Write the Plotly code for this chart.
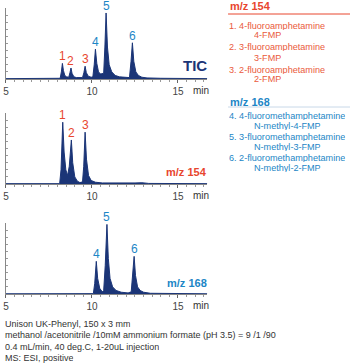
import plotly.graph_objects as go

W, H = 350, 363

# ---- data ----
tic_t = [5, 8.1, 8.15, 8.22, 8.28, 8.34, 8.42, 8.52, 8.65, 8.72, 8.78, 8.84, 8.95, 9.1,
         9.45, 9.53, 9.6, 9.67, 9.78, 9.95, 10.05, 10.13, 10.2, 10.28, 10.38, 10.5,
         10.68, 10.75, 10.82, 10.9, 11.0, 11.15, 11.35, 11.6, 11.9, 12.18, 12.27, 12.35,
         12.43, 12.55, 12.7, 12.9, 13.2, 14, 16.7]
tic_i = [0.5, 0.5, 1, 10, 22, 12, 5, 3, 2.5, 9, 15.5, 8, 3, 2,
         2, 9, 18, 9, 4, 2.5, 3, 20, 42, 22, 10, 7,
         8, 45, 93, 45, 20, 10, 5, 3, 2, 2, 25, 51,
         25, 10, 5, 2.5, 1.5, 1, 0.5]

mz154_t = [5, 8.12, 8.2, 8.3, 8.38, 8.48, 8.58, 8.68, 8.8, 8.88, 9.0, 9.15, 9.3, 9.45,
           9.52, 9.6, 9.68, 9.8, 9.95, 10.2, 10.6, 11.5, 11.8, 12.5, 12.9, 13.3, 16.7]
mz154_i = [0.5, 0.5, 20, 87, 45, 20, 12, 25, 62, 30, 10, 4, 2, 3,
           25, 73, 35, 12, 5, 2.5, 1.5, 1, 1.5, 1.5, 1.8, 0.8, 0.5]

mz168_t = [5, 10.08, 10.16, 10.25, 10.33, 10.45, 10.6, 10.68, 10.77, 10.87, 10.95, 11.05,
           11.2, 11.4, 11.7, 12.1, 12.28, 12.37, 12.45, 12.53, 12.65, 12.8, 13.0, 13.4, 16.7]
mz168_i = [0.3, 0.5, 15, 46, 22, 8, 3, 5, 40, 98, 50, 22,
           10, 5, 2.5, 1.5, 3, 25, 53, 26, 10, 5, 2.5, 1, 0.3]

peak_labels = ["1", "2", "3", "4", "5", "6"]
tic_peak_t = [8.28, 8.78, 9.6, 10.2, 10.82, 12.35]
tic_peak_i = [22, 15.5, 18, 42, 93, 51]
p154_t = [8.3, 8.8, 9.6]
p154_i = [87, 62, 73]
p168_t = [10.25, 10.87, 12.45]
p168_i = [46, 98, 53]

x_ticks = [5, 10, 15]
panel_names = ["TIC", "m/z 154", "m/z 168"]

legend154 = ["1. 4-fluoroamphetamine", "4-FMP", "2. 3-fluoroamphetamine", "3-FMP",
             "3. 2-fluoroamphetamine", "2-FMP"]
legend168 = ["4. 4-fluoromethamphetamine", "N-methyl-4-FMP", "5. 3-fluoromethamphetamine",
             "N-methyl-3-FMP", "6. 2-fluoromethamphetamine", "N-methyl-2-FMP"]
conditions = ["Unison UK-Phenyl, 150 x 3 mm",
              "methanol /acetonitrile /10mM ammonium formate (pH 3.5) = 9 /1 /90",
              "0.4 mL/min, 40 deg.C, 1-20uL injection",
              "MS: ESI, positive"]

# ---- styles ----
NAVY = "#1b3577"
RED = "#e8462e"
RED_L = "#ea5a3c"
BLUE = "#1c86c6"
FONT = "Liberation Sans, Arial, sans-serif"

def px(x, y):
    return x / W, 1 - y / H

fig = go.Figure()

panels = [(8, 79), (113, 184), (223, 294)]
xl, xr = 3, 206
traces = [(tic_t, tic_i), (mz154_t, mz154_i), (mz168_t, mz168_i)]

for k, ((top, bot), (t, i)) in enumerate(zip(panels, traces)):
    sfx = "" if k == 0 else str(k + 1)
    fig.add_trace(go.Scatter(x=t, y=i, mode="lines", fill="tozeroy",
                             line=dict(color=NAVY, width=1), fillcolor=NAVY,
                             xaxis="x" + sfx, yaxis="y" + sfx, hoverinfo="skip"))
    fig.layout["xaxis" + sfx] = dict(
        domain=[xl / W, xr / W], range=[5, 16.7], anchor="y" + sfx,
        tickvals=x_ticks, ticks="outside", ticklen=3, tickcolor="#666",
        minor=dict(dtick=0.5, ticks="outside", ticklen=2, tickcolor="#999"),
        showline=True, linecolor="#888", linewidth=1, showgrid=False, zeroline=False,
        tickfont=dict(family=FONT, size=10, color="#444"), fixedrange=True)
    fig.layout["yaxis" + sfx] = dict(
        domain=[1 - bot / H, 1 - top / H], range=[0, 100], anchor="x" + sfx,
        showticklabels=False, ticks="inside", ticklen=2, dtick=10, tickcolor="#999",
        showline=True, linecolor="#888", linewidth=1, showgrid=False, zeroline=False,
        fixedrange=True)

annotations = []

def peak_ann(labels, ts, hs, sfx):
    for lab, t, h in zip(labels, ts, hs):
        col = RED if int(lab) <= 3 else BLUE
        annotations.append(dict(x=t, y=h, xref="x" + sfx, yref="y" + sfx, text=lab,
                                showarrow=False, yanchor="bottom", yshift=0, height=12,
                                borderpad=0,
                                font=dict(family=FONT, size=12, color=col)))

peak_ann(peak_labels, tic_peak_t, tic_peak_i, "")
peak_ann(peak_labels[:3], p154_t, p154_i, "2")
peak_ann(peak_labels[3:], p168_t, p168_i, "3")

name_specs = [(panel_names[0], 65, NAVY, 15), (panel_names[1], 172, RED, 11),
              (panel_names[2], 283, BLUE, 11)]
for txt, yy, col, sz in name_specs:
    x0, y0 = px(208, yy)
    annotations.append(dict(x=x0, y=y0, xref="paper", yref="paper", text="<b>%s</b>" % txt,
                            showarrow=False, xanchor="right", yanchor="middle",
                            font=dict(family=FONT, size=sz, color=col)))

for (top, bot) in panels:
    x0, y0 = px(200, bot + 11)
    annotations.append(dict(x=x0, y=y0, xref="paper", yref="paper", text="min",
                            showarrow=False, xanchor="center", yanchor="middle",
                            font=dict(family=FONT, size=10, color="#333")))

def legend_block(title, items, col, icol, y_title, y_items):
    x0, y0 = px(228, y_title)
    annotations.append(dict(x=x0, y=y0, xref="paper", yref="paper", text="<b>%s</b>" % title,
                            showarrow=False, xanchor="left", yanchor="middle",
                            height=11, borderpad=0,
                            font=dict(family=FONT, size=11, color=col)))
    for n, (txt, yy) in enumerate(zip(items, y_items)):
        xx = 227 if n % 2 == 0 else 252
        a, b = px(xx, yy)
        annotations.append(dict(x=a, y=b, xref="paper", yref="paper", text=txt,
                                showarrow=False, xanchor="left", yanchor="middle",
                                height=9, borderpad=0,
                                font=dict(family=FONT, size=9.1, color=icol)))

legend_block("m/z 154", legend154, RED, RED_L, 5, [25, 35, 47, 57, 69, 79])
legend_block("m/z 168", legend168, BLUE, BLUE, 101, [115, 125, 136, 146, 157, 167])

shapes = [
    dict(type="line", xref="paper", yref="paper", x0=227 / W, x1=1, y0=1 - 14 / H, y1=1 - 14 / H,
         line=dict(color=RED, width=1)),
    dict(type="line", xref="paper", yref="paper", x0=227 / W, x1=1, y0=1 - 107 / H, y1=1 - 107 / H,
         line=dict(color="#c8d8e8", width=1)),
]

for txt, yy in zip(conditions, [324, 335, 347, 358]):
    a, b = px(1, yy)
    annotations.append(dict(x=a, y=b, xref="paper", yref="paper", text=txt,
                            showarrow=False, xanchor="left", yanchor="middle",
                            height=10, borderpad=0,
                            font=dict(family=FONT, size=9, color="#333")))

fig.update_layout(width=W, height=H, margin=dict(l=0, r=0, t=0, b=0),
                  paper_bgcolor="white", plot_bgcolor="white", showlegend=False,
                  annotations=annotations, shapes=shapes)

fig.write_html("out.html", config={"displayModeBar": False})
